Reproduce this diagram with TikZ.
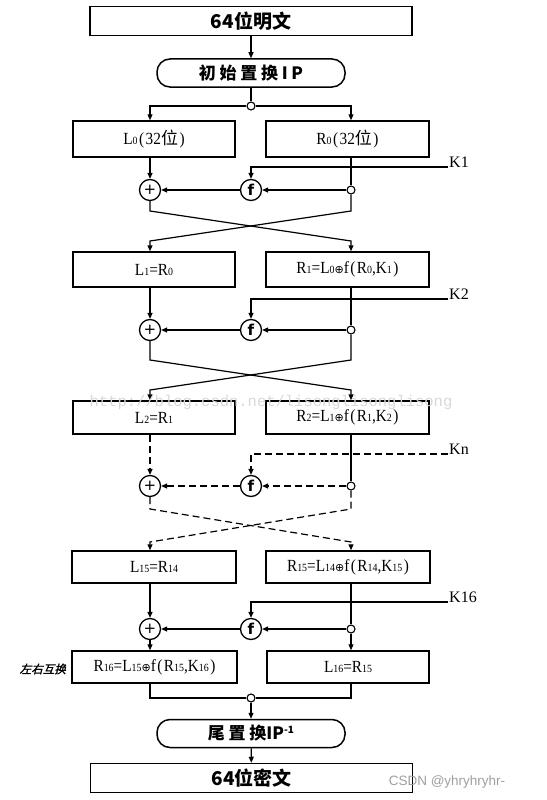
\documentclass[tikz,border=0pt]{standalone}
\usepackage{fontspec}
\setmainfont{Liberation Serif}
\newfontfamily\labf[FakeStretch=0.9]{Liberation Serif}
\newfontfamily\cjk{Noto Sans CJK SC}
\newfontfamily\cjkwide[LetterSpace=22]{Noto Sans CJK SC}
\newfontfamily\cjkslant[FakeSlant=0.25,FakeBold=1.5]{Noto Sans CJK SC}
\newfontfamily\symf{DejaVu Sans}
\newfontfamily\wmono{Liberation Mono}
\newfontfamily\wsans{Liberation Sans}
\usetikzlibrary{arrows.meta}
\newcommand\lsub[1]{{\fontsize{11pt}{11pt}\selectfont #1}}
\newcommand\xo{{\symf\fontsize{11pt}{11pt}\selectfont ⊕}}
\newcommand\lp{\kern1.5pt(\kern1.5pt}
\newcommand\rp{\kern1.5pt)}
\tikzset{
  box/.style={draw, line width=1.5pt, inner sep=0pt, fill=white, font=\labf\fontsize{17pt}{17pt}\selectfont},
  bigbox/.style={draw, line width=1.5pt, minimum width=322pt, minimum height=29pt, font=\cjk\bfseries\fontsize{19pt}{19pt}\selectfont},
  pill/.style={draw, line width=1.5pt, rounded corners=13pt, minimum width=188pt, minimum height=28pt, font=\cjkwide\bfseries\fontsize{17pt}{17pt}\selectfont},
  ln/.style={line width=1.2pt},
  arr/.style={ln, -{Triangle[length=6pt,width=5pt]}},
  dsh/.style={dash pattern=on 7pt off 4pt},
  op/.style={circle, draw, line width=1.3pt, minimum size=21pt, inner sep=0pt, fill=white, font=\symf\fontsize{15pt}{15pt}\selectfont},
  jn/.style={circle, draw, line width=1.1pt, fill=white, minimum size=8pt, inner sep=0pt},
  klab/.style={anchor=west, inner sep=1pt, font=\fontsize{16pt}{16pt}\selectfont},
}
\begin{document}
\begin{tikzpicture}[x=1pt,y=-1pt]
\useasboundingbox (0,0) rectangle (546,800);
\coordinate (cl) at (150,0);
\coordinate (cr) at (351,0);
% top
\node[bigbox] (pt) at (251,21) {64位明文};
\node[pill] (ip) at (251,73) {初始置换IP};
\node[jn] (j0) at (251,106) {};
\draw[arr] (pt) -- (ip);
\draw[ln] (ip) -- (j0);
% row 0
\node[box, minimum width=162pt, minimum height=36pt] (L0) at (154,139) {L\lsub{0}\lp 32{\cjk 位}\rp};
\node[box, minimum width=163pt, minimum height=36pt] (R0) at (347.5,139) {R\lsub{0}\lp 32{\cjk 位}\rp};
\draw[arr] (j0) -| (L0.north -| cl);
\draw[arr] (j0) -| (R0.north -| cr);
% round 1
\node[op] (x1) at (150,190) {+};
\node[op] (f1) at (251,190) {\bfseries f};
\node[jn] (d1) at (351,190) {};
\coordinate (k1) at (448,167);
\node[klab] (k1t) at ([yshift=5pt]k1) {K1};
\draw[arr] (L0.south -| x1) -- (x1);
\draw[ln] (R0.south -| d1) -- (d1);
\draw[arr] (d1) -- (f1);
\draw[arr] (f1) -- (x1);
\draw[arr] (k1) -| (f1);
\node[box, minimum width=162pt, minimum height=35pt] (L1) at (154,269.5) {L\lsub{1}=R\lsub{0}};
\node[box, minimum width=163pt, minimum height=35pt] (R1) at (347.5,269.5) {R\lsub{1}=L\lsub{0}\xo f\lp R\lsub{0},K\lsub{1}\rp};
\coordinate (a1) at (150,211); \coordinate (b1) at (351,211);
\coordinate (c1) at (351,241); \coordinate (e1) at (150,241);
\draw[arr] (x1) -- (a1) -- (c1) -- (R1.north -| cr);
\draw[arr] (d1) -- (b1) -- (e1) -- (L1.north -| cl);
% round 2
\node[op] (x2) at (150,330) {+};
\node[op] (f2) at (251,330) {\bfseries f};
\node[jn] (d2) at (351,330) {};
\coordinate (k2) at (448,299);
\node[klab] (k2t) at ([yshift=5pt]k2) {K2};
\draw[arr] (L1.south -| x2) -- (x2);
\draw[ln] (R1.south -| d2) -- (d2);
\draw[arr] (d2) -- (f2);
\draw[arr] (f2) -- (x2);
\draw[arr] (k2) -| (f2);
\node[box, minimum width=162pt, minimum height=33pt] (L2) at (154,417.5) {L\lsub{2}=R\lsub{1}};
\node[box, minimum width=163pt, minimum height=33pt] (R2) at (347.5,417.5) {R\lsub{2}=L\lsub{1}\xo f\lp R\lsub{1},K\lsub{2}\rp};
\coordinate (a2) at (150,360); \coordinate (b2) at (351,360);
\coordinate (c2) at (351,390); \coordinate (e2) at (150,390);
\draw[arr] (x2) -- (a2) -- (c2) -- (R2.north -| cr);
\draw[arr] (d2) -- (b2) -- (e2) -- (L2.north -| cl);
% round n (dashed)
\node[op] (x3) at (150,486) {+};
\node[op] (f3) at (251,486) {\bfseries f};
\node[jn] (d3) at (351,486) {};
\coordinate (k3) at (448,454);
\node[klab] (k3t) at ([yshift=5pt]k3) {Kn};
\draw[arr, dsh] (L2.south -| x3) -- (x3);
\draw[ln] (R2.south -| d3) -- (d3);
\draw[arr, dsh] (d3) -- (f3);
\draw[arr, dsh] (f3) -- (x3);
\draw[arr, dsh] (k3) -| (f3);
\node[box, minimum width=164pt, minimum height=32pt] (L15) at (154,567) {L\lsub{15}=R\lsub{14}};
\node[box, minimum width=164pt, minimum height=32pt] (R15) at (348,567) {R\lsub{15}=L\lsub{14}\xo f\lp R\lsub{14},K\lsub{15}\rp};
\coordinate (a3) at (150,509); \coordinate (b3) at (351,509);
\coordinate (c3) at (351,542); \coordinate (e3) at (150,542);
\draw[arr, dsh] (x3) -- (a3) -- (c3) -- (R15.north -| cr);
\draw[arr, dsh] (d3) -- (b3) -- (e3) -- (L15.north -| cl);
% round 16
\node[op] (x4) at (150,629) {+};
\node[op] (f4) at (251,629) {\bfseries f};
\node[jn] (d4) at (351,629) {};
\coordinate (k4) at (448,602);
\node[klab] (k4t) at ([yshift=5pt]k4) {K16};
\draw[arr] (L15.south -| x4) -- (x4);
\draw[ln] (R15.south -| d4) -- (d4);
\draw[arr] (d4) -- (f4);
\draw[arr] (f4) -- (x4);
\draw[arr] (k4) -| (f4);
\node[box, minimum width=165pt, minimum height=32pt] (R16) at (154.5,667) {R\lsub{16}=L\lsub{15}\xo f\lp R\lsub{15},K\lsub{16}\rp};
\node[box, minimum width=162pt, minimum height=32pt] (L16) at (348,667) {L\lsub{16}=R\lsub{15}};
\node[anchor=east, inner sep=0pt, font=\cjkslant\fontsize{11.5pt}{11.5pt}\selectfont] (swap) at (66,669) {左右互换};
\draw[arr] (x4) -- (R16.north -| cl);
\draw[arr] (d4) -- (L16.north -| cr);
% bottom
\node[jn] (j5) at (251,698) {};
\draw[ln] (R16.south -| cl) |- (j5);
\draw[ln] (L16.south -| cr) |- (j5);
\node[pill] (ip2) at (251,733.5) {尾置换{\cjk\bfseries IP}{\cjk\fontsize{10pt}{10pt}\selectfont\raisebox{6pt}{-1}}};
\node[bigbox] (ct) at (251.5,778) {64位密文};
\draw[arr] (j5) -- (ip2);
\draw[arr] (ip2) -- (ct);
% watermarks
\node[text=gray!30, font=\wmono\fontsize{15.5pt}{15.5pt}\selectfont, inner sep=0pt] (wm1) at (271,402) {http://blog.csdn.net/lisonglisonglisong};
\node[text=gray!75, font=\wsans\fontsize{13.5pt}{13.5pt}\selectfont, inner sep=0pt] (wm2) at (447,782) {CSDN @yhryhryhr-};
\end{tikzpicture}
\end{document}
